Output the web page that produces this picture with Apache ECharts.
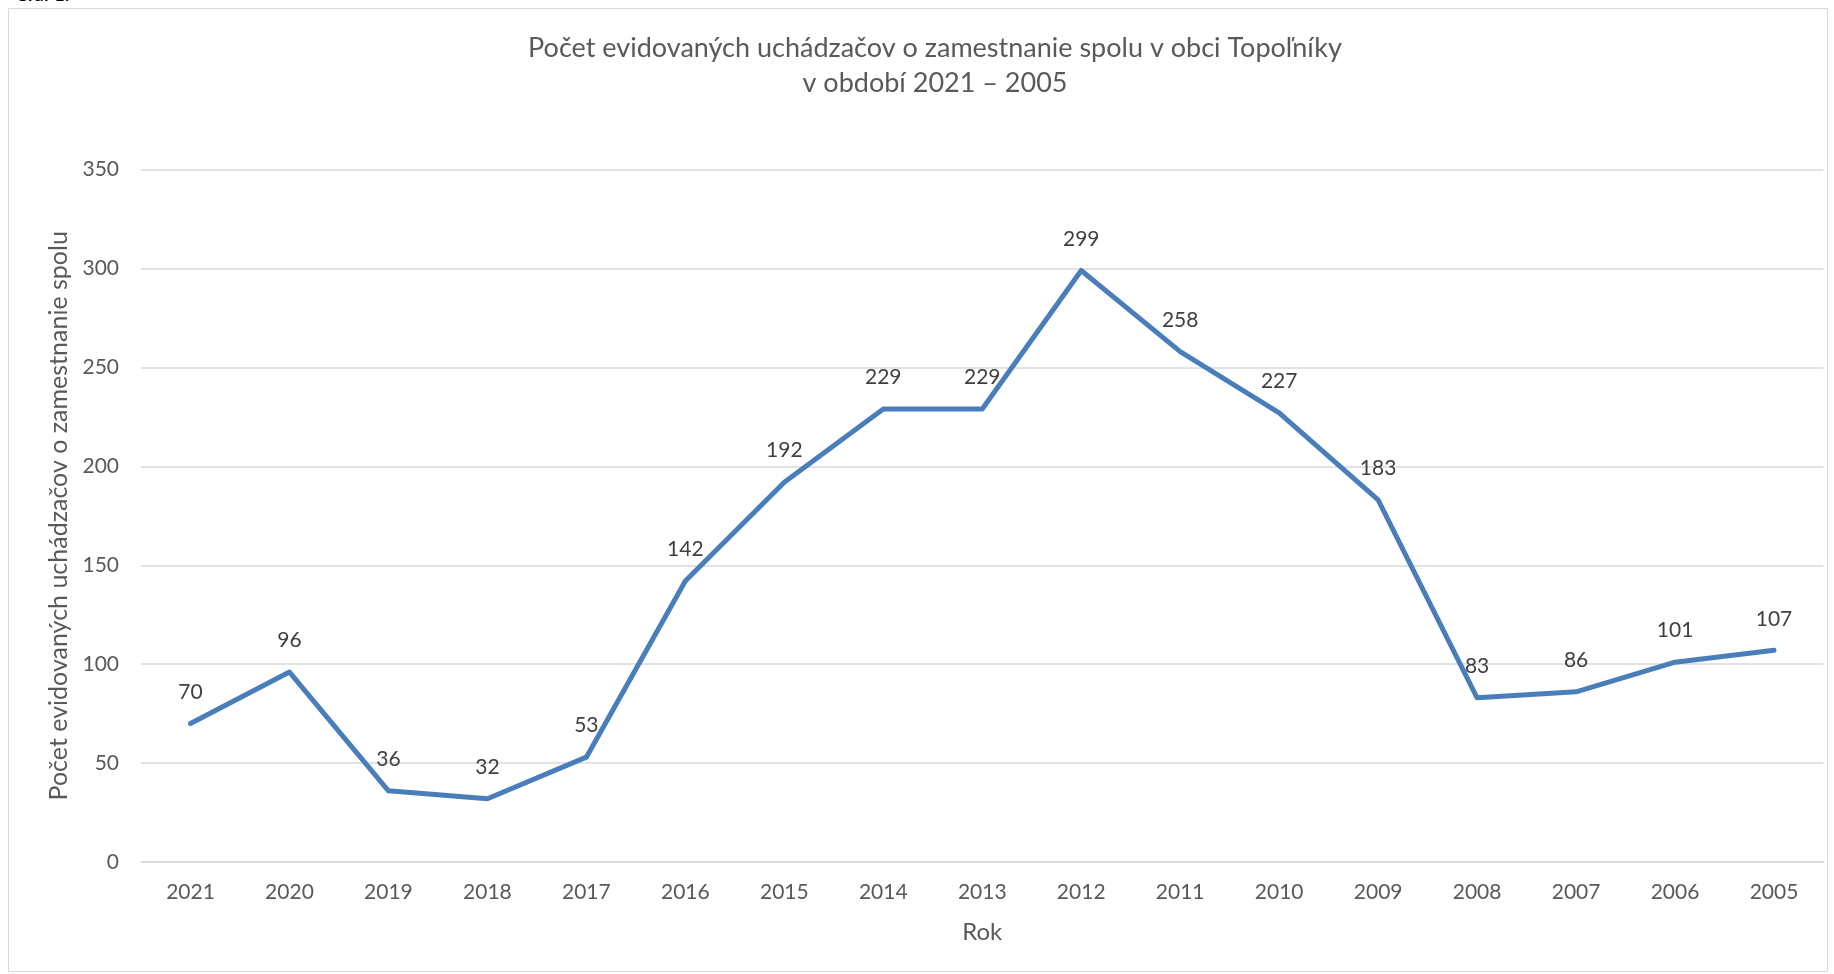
<!DOCTYPE html>
<html>
<head>
<meta charset="utf-8">
<script src="https://cdn.jsdelivr.net/npm/echarts@6/dist/echarts.min.js"></script>
<style>
  html, body { margin: 0; padding: 0; background: #fff; }
  #one { width: 1834px; height: 974px; }
</style>
</head>
<body>
<div id="one"></div>
<script>
// roky a pocty uchadzacov
var years = ['2021', '2020', '2019', '2018', '2017', '2016', '2015', '2014', '2013',
             '2012', '2011', '2010', '2009', '2008', '2007', '2006', '2005'];
var applicants = [70, 96, 36, 32, 53, 142, 192, 229, 229, 299, 258, 227, 183, 83, 86, 101, 107];
var yTicks = { min: 0, max: 350, interval: 50 };

var font = 'Lato';
var myChart = echarts.init(document.getElementById('one'));
var option = {
    backgroundColor: '#fff',
    textStyle: { fontFamily: font },
    title: {
        text: 'Počet evidovaných uchádzačov o zamestnanie spolu v obci Topoľníky\nv období 2021 – 2005',
        left: 930,
        top: 26,
        textAlign: 'center',
        textStyle: {
            color: '#595959',
            fontFamily: font,
            fontWeight: 'normal',
            fontSize: 27,
            lineHeight: 35
        }
    },
    graphic: [
        {
            type: 'rect',
            shape: { x: 8.5, y: 8.5, width: 1819, height: 963 },
            style: { fill: 'none', stroke: '#d9d9d9', lineWidth: 1 },
            silent: true
        },
        {
            type: 'text',
            x: 15,
            y: 4,
            style: { text: 'Graf 1:', fill: '#000', font: 'bold 18px ' + font, verticalAlign: 'bottom' },
            silent: true
        }
    ],
    grid: { left: 141, right: 10.5, top: 169.6, bottom: 112 },
    xAxis: {
        type: 'category',
        data: years,
        boundaryGap: true,
        name: 'Rok',
        nameLocation: 'middle',
        nameGap: 58,
        nameTextStyle: { color: '#595959', fontSize: 24, fontFamily: font },
        axisLine: { show: true, lineStyle: { color: '#d9d9d9', width: 1.5 } },
        axisTick: { show: false },
        axisLabel: { color: '#595959', fontSize: 21, margin: 20, fontFamily: font }
    },
    yAxis: {
        type: 'value',
        min: yTicks.min,
        max: yTicks.max,
        interval: yTicks.interval,
        name: 'Počet evidovaných uchádzačov o zamestnanie spolu',
        nameLocation: 'middle',
        nameGap: 70,
        nameTextStyle: { color: '#595959', fontSize: 25, fontFamily: font },
        axisLine: { show: false },
        axisTick: { show: false },
        axisLabel: { color: '#595959', fontSize: 21, margin: 22, fontFamily: font },
        splitLine: { show: true, lineStyle: { color: '#d9d9d9', width: 1.5 } }
    },
    series: [
        {
            name: 'Počet',
            type: 'line',
            data: applicants,
            showSymbol: true,
            symbol: 'circle',
            symbolSize: 2,
            lineStyle: { color: '#4a7ebb', width: 5, cap: 'round', join: 'round' },
            itemStyle: { color: '#4a7ebb' },
            label: {
                show: true,
                position: 'top',
                distance: 20,
                color: '#404040',
                fontSize: 21,
                fontFamily: font
            },
            animation: false
        }
    ]
};
myChart.setOption(option);
</script>
</body>
</html>
